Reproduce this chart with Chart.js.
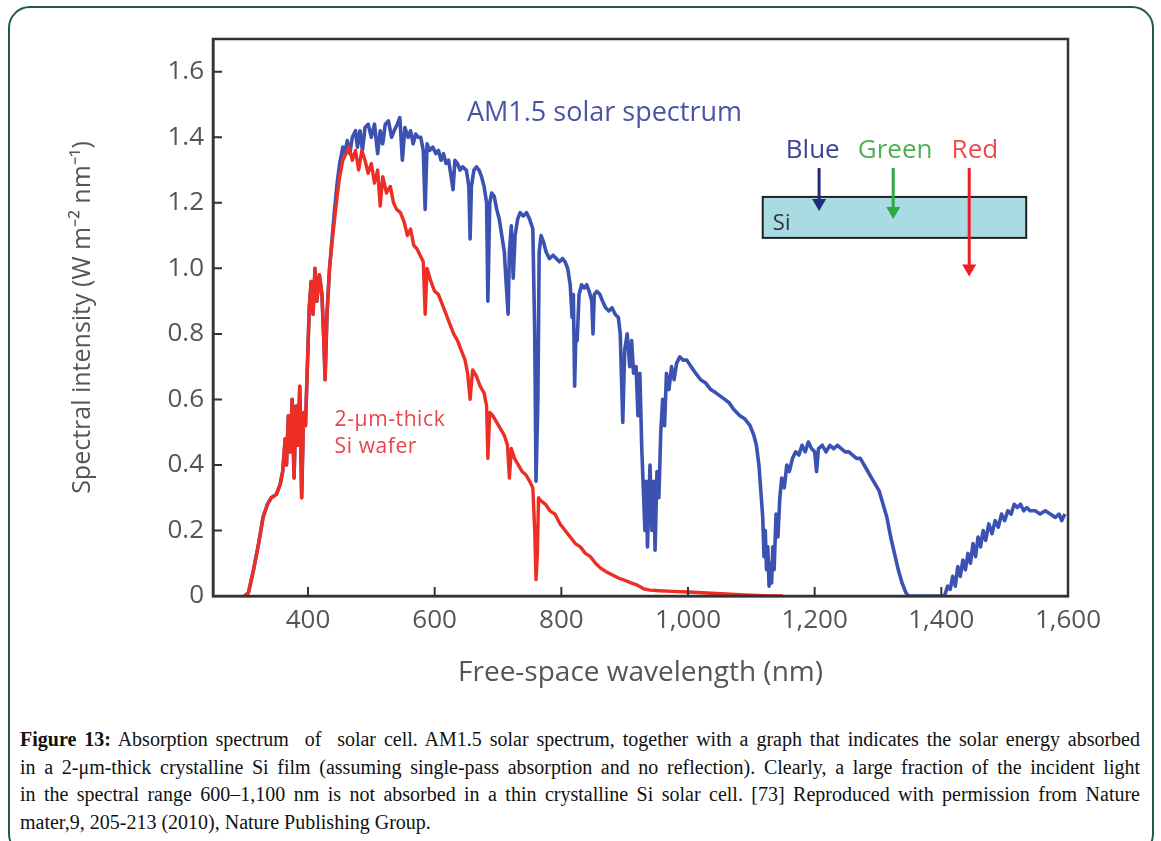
<!DOCTYPE html>
<html>
<head>
<meta charset="utf-8">
<script src="https://cdn.jsdelivr.net/npm/chart.js@4.4.0/dist/chart.umd.min.js"></script>
<style>
  html, body { margin: 0; padding: 0; background: #fff; width: 1161px; height: 841px; overflow: hidden; }
  #frame { position: absolute; left: 8px; top: 6px; width: 1146px; height: 850px; border: 2px solid #1d5a4f; border-radius: 22px; box-sizing: border-box; }
  #wrap { position: absolute; left: 0; top: 0; width: 1161px; height: 700px; }
  #caption { position: absolute; left: 20px; top: 726px; font-family: "Liberation Serif", serif; font-size: 20px; color: #111; line-height: 27.5px; }
  .ln { white-space: nowrap; width: 1120px; text-align: justify; text-align-last: justify; }
  .ln.last { text-align-last: left; }
</style>
</head>
<body>
<div id="frame"></div>
<div id="wrap"><canvas id="myChart"></canvas></div>
<div id="caption">
  <div class="ln"><b>Figure 13:</b> Absorption spectrum&nbsp; of&nbsp; solar cell. AM1.5 solar spectrum, together with a graph that indicates the solar energy absorbed</div>
  <div class="ln">in a 2-μm-thick crystalline Si film (assuming single-pass absorption and no reflection). Clearly, a large fraction of the incident light</div>
  <div class="ln">in the spectral range 600–1,100 nm is not absorbed in a thin crystalline Si solar cell. [73] Reproduced with permission from Nature</div>
  <div class="ln last">mater,9, 205-213 (2010), Nature Publishing Group.</div>
</div>
<script>
// [wavelength nm, intensity W m-2 nm-1]
const blueSpectrum = [
  [300,0],[306,0.01],[314,0.08],[322,0.16],[329,0.24],[336,0.28],[342,0.30],[350,0.31],[356,0.34],[360,0.38],
  [364,0.48],[366,0.40],[369,0.55],[372,0.44],[375,0.60],[378,0.36],[381,0.58],[384,0.46],[387,0.64],[390,0.30],
  [393,0.56],[396,0.52],[399,0.70],[402,0.88],[405,0.96],[408,0.86],[411,1.00],[414,0.90],[418,0.98],[422,0.92],
  [425,0.78],[427,0.66],[430,0.86],[434,1.00],[438,1.09],[442,1.18],[446,1.26],[450,1.32],[455,1.37],[458,1.35],
  [462,1.39],[466,1.35],[470,1.40],[475,1.42],[478,1.37],[482,1.42],[486,1.36],[490,1.43],[495,1.44],[500,1.40],
  [505,1.44],[510,1.35],[514,1.42],[518,1.38],[522,1.44],[527,1.45],[532,1.40],[536,1.42],[541,1.44],[545,1.46],
  [549,1.33],[553,1.43],[558,1.40],[562,1.42],[566,1.38],[570,1.41],[574,1.40],[578,1.40],[582,1.36],[585,1.18],
  [588,1.38],[592,1.36],[597,1.37],[602,1.35],[606,1.36],[610,1.33],[614,1.35],[618,1.32],[622,1.33],[626,1.28],
  [629,1.24],[632,1.33],[636,1.32],[640,1.30],[644,1.31],[650,1.30],[654,1.25],[656,1.09],[658,1.25],[662,1.30],
  [666,1.31],[670,1.30],[674,1.28],[678,1.25],[682,1.20],[684,0.90],[687,1.20],[690,1.23],[694,1.22],[698,1.18],
  [702,1.15],[706,1.10],[710,1.05],[713,0.95],[716,0.86],[718,1.05],[721,1.13],[724,0.97],[727,1.10],[731,1.15],
  [735,1.17],[740,1.16],[745,1.17],[750,1.15],[755,1.12],[758,0.80],[760,0.35],[763,0.60],[765,1.05],[768,1.10],
  [772,1.08],[776,1.05],[781,1.03],[787,1.04],[792,1.03],[797,1.02],[802,1.03],[806,1.02],[810,1.00],[814,0.95],
  [817,0.85],[819,0.92],[821,0.64],[823,0.80],[825,0.78],[828,0.92],[832,0.95],[836,0.94],[840,0.95],[844,0.93],
  [848,0.90],[850,0.80],[852,0.92],[856,0.93],[861,0.92],[865,0.90],[870,0.88],[875,0.87],[880,0.88],[885,0.86],
  [890,0.85],[893,0.80],[897,0.53],[900,0.75],[904,0.80],[908,0.70],[911,0.78],[914,0.68],[918,0.70],[921,0.55],
  [924,0.68],[927,0.45],[930,0.30],[932,0.20],[934,0.35],[936,0.15],[938,0.28],[940,0.40],[943,0.20],[946,0.35],
  [948,0.14],[951,0.38],[954,0.30],[957,0.50],[960,0.60],[963,0.52],[966,0.68],[970,0.63],[974,0.70],[978,0.66],
  [982,0.71],[987,0.73],[992,0.72],[998,0.72],[1005,0.70],[1012,0.68],[1020,0.66],[1028,0.65],[1036,0.63],[1044,0.62],
  [1051,0.61],[1058,0.60],[1065,0.59],[1072,0.57],[1082,0.55],[1090,0.54],[1098,0.52],[1104,0.49],[1108,0.46],[1112,0.40],
  [1115,0.32],[1118,0.24],[1120,0.12],[1122,0.20],[1124,0.08],[1126,0.15],[1128,0.03],[1130,0.10],[1132,0.04],[1134,0.15],
  [1136,0.08],[1139,0.25],[1142,0.18],[1145,0.30],[1148,0.36],[1152,0.33],[1156,0.40],[1160,0.38],[1165,0.42],[1170,0.44],
  [1175,0.43],[1180,0.46],[1185,0.44],[1190,0.47],[1195,0.45],[1200,0.44],[1203,0.38],[1206,0.45],[1212,0.46],[1218,0.44],
  [1224,0.46],[1230,0.45],[1236,0.46],[1242,0.45],[1248,0.44],[1254,0.44],[1260,0.43],[1266,0.42],[1272,0.42],[1278,0.40],
  [1284,0.38],[1290,0.36],[1296,0.34],[1302,0.32],[1308,0.28],[1314,0.24],[1320,0.18],[1326,0.13],[1332,0.08],[1338,0.04],
  [1344,0.01],[1348,0],[1405,0],[1410,0.03],[1414,0.02],[1418,0.06],[1422,0.03],[1426,0.09],[1430,0.06],[1434,0.11],
  [1438,0.08],[1442,0.13],[1446,0.10],[1450,0.16],[1454,0.12],[1458,0.18],[1462,0.15],[1466,0.20],[1470,0.17],[1475,0.22],
  [1480,0.19],[1485,0.23],[1490,0.21],[1495,0.25],[1500,0.23],[1505,0.26],[1510,0.25],[1515,0.28],[1520,0.27],[1525,0.28],
  [1530,0.26],[1535,0.27],[1540,0.26],[1548,0.26],[1556,0.25],[1564,0.26],[1572,0.25],[1580,0.24],[1586,0.25],[1590,0.23],
  [1595,0.25]
];

const redAbsorbed = [
  [300,0],[306,0.01],[314,0.08],[322,0.16],[329,0.24],[336,0.28],[342,0.30],[350,0.31],[356,0.34],[360,0.38],
  [364,0.48],[366,0.40],[369,0.55],[372,0.44],[375,0.60],[378,0.36],[381,0.58],[384,0.46],[387,0.64],[390,0.30],
  [393,0.56],[396,0.52],[399,0.70],[402,0.88],[405,0.96],[408,0.86],[411,1.00],[414,0.90],[418,0.98],[422,0.92],
  [425,0.78],[427,0.66],[430,0.86],[434,1.00],[438,1.08],[442,1.15],[446,1.22],[450,1.28],[455,1.33],[460,1.35],
  [465,1.37],[470,1.33],[475,1.36],[480,1.30],[485,1.36],[490,1.33],[495,1.29],[500,1.32],[505,1.26],[510,1.30],
  [514,1.19],[518,1.28],[524,1.23],[530,1.25],[535,1.20],[540,1.18],[546,1.17],[552,1.14],[557,1.10],[562,1.12],
  [567,1.07],[572,1.06],[577,1.04],[582,1.02],[585,0.86],[588,1.00],[594,0.96],[600,0.93],[606,0.92],[612,0.89],
  [618,0.86],[624,0.83],[630,0.80],[636,0.78],[642,0.75],[648,0.72],[652,0.68],[656,0.60],[660,0.69],[666,0.67],
  [672,0.64],[678,0.62],[682,0.58],[684,0.42],[687,0.56],[692,0.55],[698,0.53],[704,0.51],[710,0.49],[715,0.46],
  [718,0.36],[721,0.45],[726,0.42],[732,0.40],[738,0.38],[744,0.37],[750,0.35],[755,0.33],[758,0.20],[760,0.05],
  [762,0.12],[764,0.30],[768,0.29],[775,0.28],[782,0.26],[790,0.25],[798,0.22],[806,0.20],[814,0.18],[822,0.16],
  [830,0.15],[838,0.13],[846,0.12],[854,0.10],[862,0.085],[870,0.075],[880,0.065],[890,0.055],[900,0.048],[910,0.04],
  [920,0.033],[930,0.022],[940,0.018],[955,0.016],[975,0.014],[1000,0.012],[1030,0.009],[1060,0.006],[1090,0.003],[1120,0.001],
  [1150,0]
];

const xTicks = [400, 600, 800, 1000, 1200, 1400, 1600];
const yTicks = [0, 0.2, 0.4, 0.6, 0.8, 1.0, 1.2, 1.4, 1.6];
const yTickLabels = ['0', '0.2', '0.4', '0.6', '0.8', '1.0', '1.2', '1.4', '1.6'];

const axisColor = '#333';
const labelColor = '#555';

// inward ticks, box frame, text notes and the Si inset
const decorations = {
  id: 'decorations',
  afterDatasetsDraw(chart) {
    const { ctx, chartArea: a, scales: { x, y } } = chart;
    ctx.save();
    ctx.strokeStyle = axisColor;
    ctx.lineWidth = 2;
    ctx.beginPath();
    xTicks.forEach(v => {
      const px = x.getPixelForValue(v);
      ctx.moveTo(px, a.bottom);
      ctx.lineTo(px, a.bottom - 9);
    });
    yTicks.forEach(v => {
      const py = y.getPixelForValue(v);
      ctx.moveTo(a.left, py);
      ctx.lineTo(a.left + 9, py);
    });
    ctx.stroke();
    ctx.lineWidth = 2.5;
    ctx.strokeRect(a.left, a.top, a.right - a.left, a.bottom - a.top);

    ctx.textBaseline = 'middle';
    ctx.textAlign = 'left';
    ctx.font = '27px "Open Sans"';
    ctx.fillStyle = '#4a55a2';
    ctx.fillText('AM1.5 solar spectrum', x.getPixelForValue(651), y.getPixelForValue(1.474));

    ctx.font = '21px "Open Sans"';
    ctx.letterSpacing = '0.6px';
    ctx.fillStyle = '#e8444c';
    ctx.fillText('2-μm-thick', x.getPixelForValue(442), y.getPixelForValue(0.536));
    ctx.fillText('Si wafer', x.getPixelForValue(442), y.getPixelForValue(0.454));
    ctx.letterSpacing = '0px';

    // Si slab
    const bx0 = x.getPixelForValue(1118), bx1 = x.getPixelForValue(1534);
    const by0 = y.getPixelForValue(1.218), by1 = y.getPixelForValue(1.093);
    ctx.fillStyle = '#a9dbe2';
    ctx.fillRect(bx0, by0, bx1 - bx0, by1 - by0);
    ctx.strokeStyle = '#222';
    ctx.lineWidth = 2;
    ctx.strokeRect(bx0, by0, bx1 - bx0, by1 - by0);
    ctx.font = '22px "Open Sans"';
    ctx.fillStyle = '#333';
    ctx.fillText('Si', x.getPixelForValue(1134), y.getPixelForValue(1.136));

    ctx.textAlign = 'center';
    ctx.font = '26px "Open Sans"';
    const arrows = [
      { text: 'Blue', at: 1197, ax: 1207, end: 1.175, text_c: '#3d4491', c: '#1f2a7e' },
      { text: 'Green', at: 1327, ax: 1324, end: 1.151, text_c: '#4cb24f', c: '#2ea843' },
      { text: 'Red', at: 1453, ax: 1444, end: 0.975, text_c: '#ef4a4a', c: '#ee1c24' }
    ];
    arrows.forEach(ar => {
      ctx.fillStyle = ar.text_c;
      ctx.fillText(ar.text, x.getPixelForValue(ar.at), y.getPixelForValue(1.358));
      const px = x.getPixelForValue(ar.ax);
      const p0 = y.getPixelForValue(1.306), p1 = y.getPixelForValue(ar.end);
      ctx.strokeStyle = ar.c;
      ctx.fillStyle = ar.c;
      ctx.lineWidth = 3;
      ctx.beginPath();
      ctx.moveTo(px, p0);
      ctx.lineTo(px, p1 - 10);
      ctx.stroke();
      ctx.beginPath();
      ctx.moveTo(px - 7, p1 - 12);
      ctx.lineTo(px + 7, p1 - 12);
      ctx.lineTo(px, p1);
      ctx.closePath();
      ctx.fill();
    });
    ctx.restore();
  }
};

const ctx = document.getElementById('myChart').getContext('2d');
const myChart = new Chart(ctx, {
  type: 'line',
  data: {
    datasets: [{
      label: '2-μm-thick Si wafer',
      data: redAbsorbed.map(([x, y]) => ({ x, y })),
      borderColor: '#ee2d24',
      borderWidth: 3.4,
      order: 1
    }, {
      label: 'AM1.5 solar spectrum',
      data: blueSpectrum.map(([x, y]) => ({ x, y })),
      borderColor: '#3c52b2',
      borderWidth: 3.6,
      order: 2
    }]
  },
  options: {
    responsive: true,
    maintainAspectRatio: false,
    animation: false,
    layout: { padding: { left: 0, top: 39, right: 93, bottom: 0 } },
    elements: {
      point: { radius: 0 },
      line: { tension: 0, borderJoinStyle: 'round', fill: false }
    },
    plugins: {
      legend: { display: false },
      tooltip: { enabled: false }
    },
    scales: {
      x: {
        type: 'linear',
        min: 250,
        max: 1600,
        afterBuildTicks: s => { s.ticks = xTicks.map(v => ({ value: v })); },
        afterFit: s => { s.height = 104; },
        grid: { drawOnChartArea: false, drawTicks: false },
        border: { display: true, color: axisColor, width: 2.5 },
        ticks: {
          autoSkip: false,
          maxRotation: 0,
          padding: 9,
          color: labelColor,
          font: { family: 'Open Sans', size: 26 },
          callback: v => v.toLocaleString('en-US')
        },
        title: {
          display: true,
          text: 'Free-space wavelength (nm)',
          color: labelColor,
          font: { family: 'Open Sans', size: 28 },
          padding: { top: 0, bottom: 10 }
        }
      },
      y: {
        min: 0,
        max: 1.7,
        afterBuildTicks: s => { s.ticks = yTicks.map(v => ({ value: v })); },
        afterFit: s => { s.width = 213; },
        grid: { drawOnChartArea: false, drawTicks: false },
        border: { display: true, color: axisColor, width: 2.5 },
        ticks: {
          autoSkip: false,
          padding: 9,
          color: labelColor,
          font: { family: 'Open Sans', size: 26 },
          callback: (v, i) => yTickLabels[i]
        },
        title: {
          display: true,
          text: 'Spectral intensity (W m⁻² nm⁻¹)',
          color: labelColor,
          font: { family: 'Open Sans', size: 25 },
          padding: { top: 68, bottom: 0 }
        }
      }
    }
  },
  plugins: [decorations]
});
</script>
</body>
</html>
